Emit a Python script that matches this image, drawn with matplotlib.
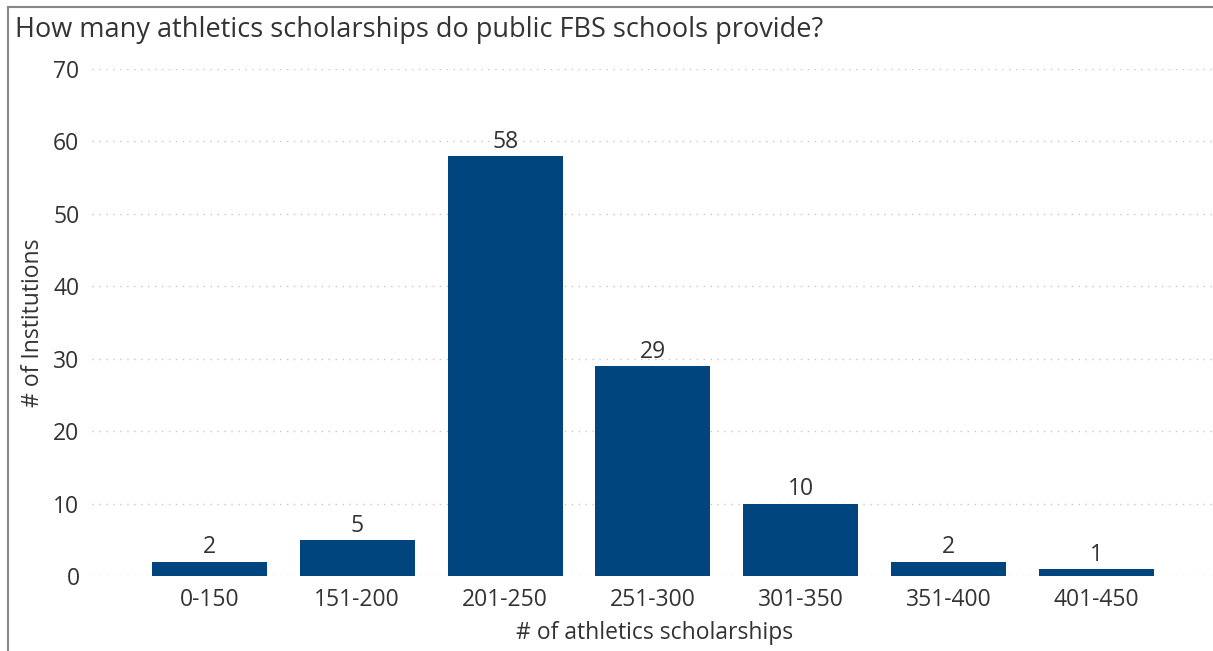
import matplotlib
matplotlib.use("Agg")
import matplotlib.pyplot as plt
from matplotlib.lines import Line2D

categories = ["0-150", "151-200", "201-250", "251-300", "301-350", "351-400", "401-450"]
values = [2, 5, 58, 29, 10, 2, 1]
yticks = [0, 10, 20, 30, 40, 50, 60, 70]

plt.rcParams['font.family'] = ['Open Sans', 'DejaVu Sans']
W, H = 1213, 651
fig = plt.figure(figsize=(W/100, H/100), dpi=100)
ax = fig.add_axes([92/W, 1-576/H, 1-92/W, (576-69)/H])

bar_color = "#00457E"
text_color = "#333333"
fs = 16.5
x = list(range(len(categories)))
ax.bar(x, values, width=0.778, color=bar_color, zorder=3)
for xi, v in zip(x, values):
    ax.text(xi, v + 0.3, str(v), ha="center", va="bottom", fontsize=fs, color=text_color)

ax.set_xlim(-0.795, 6.79)
ax.set_ylim(0, 70)
ax.set_yticks(yticks)
ax.set_xticks(x)
ax.set_xticklabels(categories)
ax.tick_params(axis="both", length=0, labelsize=fs, labelcolor=text_color)
ax.tick_params(axis="y", pad=9)
ax.tick_params(axis="x", pad=9)
ax.yaxis.grid(True, color="#c8c8c8", linestyle=(0, (1, 4)), linewidth=1, zorder=0)
for s in ax.spines.values():
    s.set_visible(False)

fig.text(15/W, 1-30/H, "How many athletics scholarships do public FBS schools provide?",
         ha="left", va="center", fontsize=19.5, color=text_color)
fig.text(33/W, 1-323/H, "# of Institutions", rotation=90, ha="center", va="center",
         fontsize=fs, color=text_color)
fig.text(655/W, 1-633/H, "# of athletics scholarships", ha="center", va="center",
         fontsize=fs, color=text_color)

fig.add_artist(Line2D([8/W, 1], [1-7/H, 1-7/H], color="#888888", linewidth=1.5, transform=fig.transFigure))
fig.add_artist(Line2D([8/W, 8/W], [0, 1-7/H], color="#888888", linewidth=1.5, transform=fig.transFigure))

fig.savefig("out.png", dpi=100)
